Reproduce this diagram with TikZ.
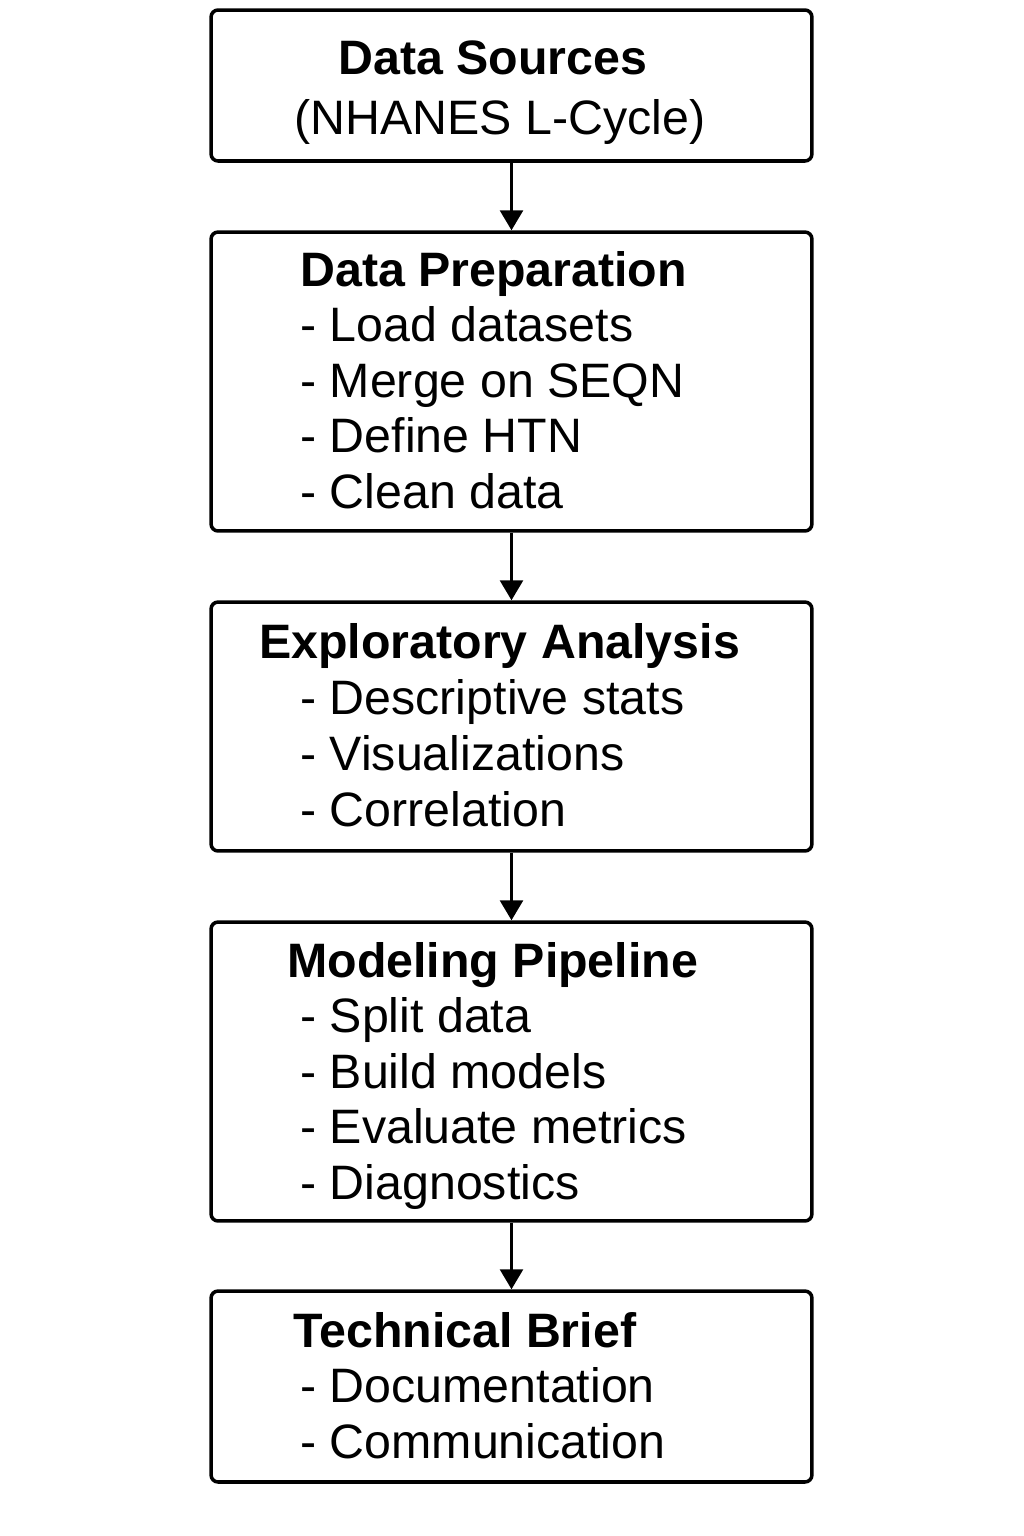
\documentclass[tikz,border=0pt]{standalone}
\usepackage{fontspec}
\setmainfont{Liberation Sans}
\usetikzlibrary{positioning,arrows.meta}

\begin{document}
\begin{tikzpicture}[x=0.02cm, y=-0.02cm,
    stage/.style={draw, line width=2pt, rounded corners=0.14cm, minimum width=12.02cm, inner sep=0pt},
    head/.style={font=\fontsize{27.5}{31.6}\selectfont\bfseries, inner sep=0pt, anchor=base west},
    items/.style={font=\fontsize{27.5}{31.6}\selectfont, align=left, inner sep=0pt, anchor=base west},
    flow/.style={line width=1.6pt, -{Triangle[length=0.4cm, width=0.46cm]}}]
    \useasboundingbox (0, 0) rectangle (1024, 1536);

    % Data Sources
    \node [stage, minimum height=3.02cm] (src) at (511.5, 85.5) {};
    \node [head, anchor=base] (srcT) at (493, 74) {Data Sources};
    \node [items, anchor=base] (srcL) at (500, 134) {(NHANES L-Cycle)};

    % Data Preparation (base = last line)
    \node [stage, minimum height=5.98cm] (prep) at (511.5, 381.5) {};
    \node [head] (prepT) at (300, 286) {Data Preparation};
    \node [items] (prepL) at (300, 508.5) {- Load datasets\\- Merge on SEQN\\- Define HTN\\- Clean data};

    % Exploratory Analysis
    \node [stage, minimum height=4.98cm] (eda) at (511.5, 726.5) {};
    \node [head] (edaT) at (259, 658) {Exploratory Analysis};
    \node [items] (edaL) at (300, 826) {- Descriptive stats\\- Visualizations\\- Correlation};

    % Modeling Pipeline
    \node [stage, minimum height=5.98cm] (model) at (511.5, 1071.5) {};
    \node [head] (modelT) at (287, 977) {Modeling Pipeline};
    \node [items] (modelL) at (300, 1199.5) {- Split data\\- Build models\\- Evaluate metrics\\- Diagnostics};

    % Technical Brief
    \node [stage, minimum height=3.82cm] (brief) at (511.5, 1386.5) {};
    \node [head] (briefT) at (293, 1347) {Technical Brief};
    \node [items] (briefL) at (300, 1458.5) {- Documentation\\- Communication};

    % Arrows
    \draw [flow] (src) -- (prep);
    \draw [flow] (prep) -- (eda);
    \draw [flow] (eda) -- (model);
    \draw [flow] (model) -- (brief);
\end{tikzpicture}
\end{document}
